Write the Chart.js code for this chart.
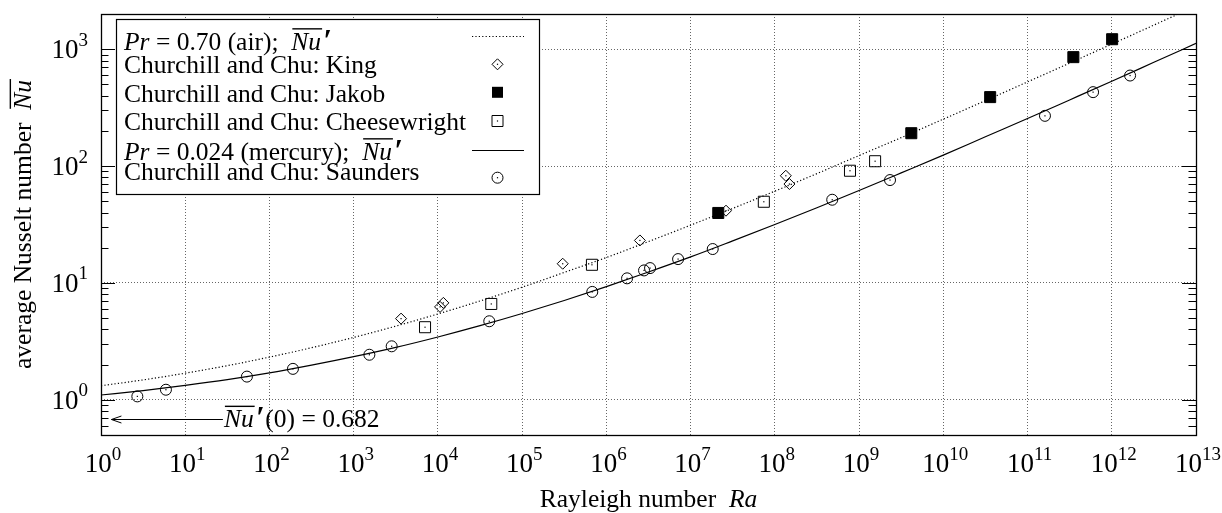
<!DOCTYPE html>
<html><head><meta charset="utf-8">
<script src="https://cdn.jsdelivr.net/npm/chart.js@4.4.1/dist/chart.umd.min.js"></script>
<style>html,body{margin:0;padding:0;background:#fff;}#wrap{width:1222px;height:513px;}</style>
</head><body><div id="wrap"><canvas id="c" width="1222" height="513"></canvas></div>
<script>
// ---------------- data ----------------
const xTickValues = [1e0,1e1,1e2,1e3,1e4,1e5,1e6,1e7,1e8,1e9,1e10,1e11,1e12,1e13];
const xTickLabels = ['10^0','10^1','10^2','10^3','10^4','10^5','10^6','10^7','10^8','10^9','10^10','10^11','10^12','10^13'];
const yTickValues = [1e0,1e1,1e2,1e3];
const yTickLabels = ['10^0','10^1','10^2','10^3'];
const xAxisTitle = 'Rayleigh number  *Ra*';
const yAxisTitle = 'average Nusselt number  ~Nu~';

const curveRa = [1e0,3.16e0,1e1,3.16e1,1e2,3.16e2,1e3,3.16e3,1e4,3.16e4,1e5,3.16e5,1e6,3.16e6,1e7,3.16e7,1e8,3.16e8,1e9,3.16e9,1e10,3.16e10,1e11,3.16e11,1e12,3.16e12,1e13];
const airNu = [1.32,1.48,1.69,1.96,2.32,2.79,3.42,4.27,5.43,7.01,9.20,12.3,16.5,22.6,31.2,43.4,61.0,86.2,123,175,252,363,525,760,1105,1607,2342];
const mercuryNu = [1.10,1.20,1.33,1.49,1.70,1.98,2.34,2.81,3.45,4.31,5.48,7.08,9.30,12.4,16.7,22.9,31.6,44.0,61.8,87.4,124,178,255,368,532,772,1121];

const kingRa = [3650,1.06e4,1.16e4,3.03e5,2.5e6,2.63e7,1.35e8,1.49e8];
const kingNu = [4.95,6.24,6.75,14.6,23.1,41.5,82.6,70.2];
const jakobRa = [2.13e7,4.17e9,3.6e10,3.5e11,1.01e12];
const jakobNu = [39.7,191,389,855,1217];
const cheeseRa = [7030,4.3e4,6.74e5,7.4e7,7.8e8,1.55e9];
const cheeseNu = [4.18,6.61,14.3,49.5,91.2,110];
const saundersRa = [2.7,5.9,54,190,1535,2825,4.07e4,6.8e5,1.76e6,2.8e6,3.3e6,7.1e6,1.83e7,4.8e8,2.33e9,1.61e11,6.0e11,1.65e12];
const saundersNu = [1.07,1.22,1.58,1.84,2.43,2.87,4.70,8.38,10.95,12.8,13.4,16.0,19.5,51.5,75.9,269,429,595];

const legendLabels = ['*Pr* = 0.70 (air);  ~Nu~′','Churchill and Chu: King','Churchill and Chu: Jakob','Churchill and Chu: Cheesewright','*Pr* = 0.024 (mercury);  ~Nu~′','Churchill and Chu: Saunders'];
const annotRaFrom = 28, annotRaTo = 1.33, annotNu = 0.682;
const annotLabel = '~Nu~′(0) = 0.682';

// ---------------- helpers ----------------
const FONT = "'Liberation Serif','Times New Roman',serif";
const plain = s => s.replace(/[*~]/g,'');
const pts = (xs,ys) => xs.map((x,i)=>({x, y: ys[i]}));

function parseRich(s){
  return s.split(/(\*[^*]+\*|~[^~]+~|′)/).filter(t=>t.length).map(t=>{
    if (t[0]==='*') return {t:t.slice(1,-1), it:true};
    if (t[0]==='~') return {t:t.slice(1,-1), it:true, ov:true};
    if (t==='′') return {t:'′', pr:true};
    return {t};
  });
}
function segFont(sg,size){
  if (sg.pr) return `italic bold ${Math.round(size*1.2)}px ${FONT}`;
  return `${sg.it?'italic ':''}${size}px ${FONT}`;
}
function drawRich(ctx, s, x, y, size, align){
  const segs = parseRich(s);
  let w = 0;
  for (const sg of segs){ ctx.font = segFont(sg,size); w += ctx.measureText(sg.t).width + (sg.pr ? 3 : 0); }
  let cx = align==='center' ? x-w/2 : align==='right' ? x-w : x;
  ctx.textBaseline='alphabetic'; ctx.textAlign='left'; ctx.fillStyle='#000';
  for (const sg of segs){
    ctx.font = segFont(sg,size);
    const sw = ctx.measureText(sg.t).width;
    if (sg.pr){ ctx.fillText(sg.t, cx+2, y+1); cx += sw+3; continue; }
    ctx.fillText(sg.t, cx, y);
    if (sg.ov){
      ctx.save(); ctx.strokeStyle='#000'; ctx.lineWidth=1.4; ctx.beginPath();
      ctx.moveTo(cx+1, y-size*0.81); ctx.lineTo(cx+sw+1, y-size*0.81); ctx.stroke(); ctx.restore();
    }
    cx += sw;
  }
}
function drawPow(ctx, label, x, y, align){
  const [b,e] = label.split('^');
  const bs = 27, es = 19;
  ctx.font = `${bs}px ${FONT}`; const bw = ctx.measureText(b).width;
  ctx.font = `${es}px ${FONT}`; const ew = ctx.measureText(e).width;
  const w = bw+ew;
  let sx = align==='center' ? x-w/2 : x-w;
  ctx.fillStyle='#000'; ctx.textAlign='left'; ctx.textBaseline='alphabetic';
  ctx.font = `${bs}px ${FONT}`; ctx.fillText(b, sx, y);
  ctx.font = `${es}px ${FONT}`; ctx.fillText(e, sx+bw, y-12.5);
}
function sym(ctx, kind, x, y){
  ctx.save(); ctx.strokeStyle='#000'; ctx.fillStyle='#000'; ctx.lineWidth=1;
  ctx.beginPath();
  if (kind==='diamond'){ ctx.moveTo(x-5.5,y); ctx.lineTo(x,y-5.5); ctx.lineTo(x+5.5,y); ctx.lineTo(x,y+5.5); ctx.closePath(); ctx.stroke(); }
  else if (kind==='fsquare'){ ctx.rect(x-5.5,y-5.5,11,11); ctx.fill(); }
  else if (kind==='square'){ ctx.rect(x-5.5,y-5.5,11,11); ctx.stroke(); }
  else if (kind==='circle'){ ctx.arc(x,y,5.5,0,Math.PI*2); ctx.stroke(); }
  if (kind!=='fsquare'){ ctx.fillRect(x-0.6,y-0.6,1.2,1.2); }
  ctx.restore();
}

// ---------------- plugin ----------------
const decor = {
  id:'decor',
  afterDatasetsDraw(chart){
    const ctx = chart.ctx, a = chart.chartArea, xs = chart.scales.x, ys = chart.scales.y;
    ctx.save();
    chart.data.datasets.forEach((ds,i)=>{
      if (!ds.centerDot) return;
      chart.getDatasetMeta(i).data.forEach(el=>{
        ctx.fillStyle='#000'; ctx.fillRect(el.x-0.6, el.y-0.6, 1.2, 1.2);
      });
    });
    ctx.strokeStyle='#000'; ctx.lineWidth=1;
    for (let d=-1; d<=3; d++){
      for (let m=1; m<=9; m++){
        const v = m*Math.pow(10,d);
        if (v < ys.min || v > ys.max) continue;
        const py = Math.round(ys.getPixelForValue(v))+0.5;
        const len = m===1 ? 14 : 7.5;
        ctx.beginPath();
        ctx.moveTo(a.left, py); ctx.lineTo(a.left+len, py);
        ctx.moveTo(a.right, py); ctx.lineTo(a.right-len, py);
        ctx.stroke();
      }
    }
    ctx.lineWidth=1.3;
    ctx.strokeRect(Math.round(a.left)+0.5, Math.round(a.top)+0.5, Math.round(a.right-a.left), Math.round(a.bottom-a.top));
    const ax0 = xs.getPixelForValue(annotRaFrom), ax1 = xs.getPixelForValue(annotRaTo), ay = Math.round(ys.getPixelForValue(annotNu))+0.5;
    ctx.lineWidth=1; ctx.beginPath();
    ctx.moveTo(ax0, ay); ctx.lineTo(ax1, ay);
    ctx.moveTo(ax1+10, ay-3.5); ctx.lineTo(ax1, ay); ctx.lineTo(ax1+10, ay+3.5);
    ctx.stroke();
    drawRich(ctx, annotLabel, ax0+1, ay+7.5, 25.5, 'left');
    const L = {x:116, y:19, w:423, h:175};
    ctx.fillStyle='#fff'; ctx.fillRect(L.x, L.y, L.w, L.h);
    ctx.strokeStyle='#000'; ctx.lineWidth=1.2; ctx.strokeRect(L.x+0.5, L.y+0.5, L.w, L.h);
    const textBase = [49.5, 73, 101.5, 130, 159.5, 180];
    const symY = [35.7, 64.3, 92.3, 121, 149.7, 177.7];
    const kinds = ['dotted','diamond','fsquare','square','solid','circle'];
    legendLabels.forEach((lab,i)=>{
      drawRich(ctx, lab, 124, textBase[i], 25.5, 'left');
      const k = kinds[i], y = symY[i];
      if (k==='dotted' || k==='solid'){
        ctx.save(); ctx.strokeStyle='#000'; ctx.lineWidth= k==='dotted' ? 1.2 : 1.1;
        if (k==='dotted') ctx.setLineDash([1.2,2.2]);
        ctx.beginPath(); ctx.moveTo(472, Math.round(y)+0.5); ctx.lineTo(524, Math.round(y)+0.5); ctx.stroke(); ctx.restore();
      } else sym(ctx, k, 497.5, y);
    });
    ctx.restore();
  },
  afterDraw(chart){
    const ctx = chart.ctx, a = chart.chartArea, xs = chart.scales.x, ys = chart.scales.y;
    ctx.save();
    xTickValues.forEach((v,i)=> drawPow(ctx, xTickLabels[i], xs.getPixelForValue(v)+2, 472, 'center'));
    yTickValues.forEach((v,i)=> drawPow(ctx, yTickLabels[i], 88, ys.getPixelForValue(v)+9, 'right'));
    drawRich(ctx, xAxisTitle, (a.left+a.right)/2, 507, 25.5, 'center');
    ctx.translate(31, (a.top+a.bottom)/2); ctx.rotate(-Math.PI/2);
    drawRich(ctx, yAxisTitle, 0, 0, 25.5, 'center');
    ctx.restore();
  }
};

// ---------------- chart ----------------
const scatterBase = {type:'scatter', showLine:false, borderColor:'#000', borderWidth:1, pointHoverRadius:0};
new Chart(document.getElementById('c'), {
  type:'scatter',
  data:{ datasets:[
    {type:'line', label: plain(legendLabels[0]), data: pts(curveRa, airNu), borderColor:'#000', borderWidth:1.2, borderDash:[1.2,2.2], pointRadius:0, fill:false, cubicInterpolationMode:'monotone', order:5},
    {...scatterBase, label: plain(legendLabels[1]), data: pts(kingRa, kingNu), pointStyle:'rectRot', pointRadius:5.5, backgroundColor:'rgba(255,255,255,0)', centerDot:true},
    {...scatterBase, label: plain(legendLabels[2]), data: pts(jakobRa, jakobNu), pointStyle:'rect', pointRadius:7.8, backgroundColor:'#000'},
    {...scatterBase, label: plain(legendLabels[3]), data: pts(cheeseRa, cheeseNu), pointStyle:'rect', pointRadius:7.8, backgroundColor:'rgba(255,255,255,0)', centerDot:true},
    {type:'line', label: plain(legendLabels[4]), data: pts(curveRa, mercuryNu), borderColor:'#000', borderWidth:1.2, pointRadius:0, fill:false, cubicInterpolationMode:'monotone', order:5},
    {...scatterBase, label: plain(legendLabels[5]), data: pts(saundersRa, saundersNu), pointStyle:'circle', pointRadius:5.5, backgroundColor:'rgba(255,255,255,0)', centerDot:true}
  ]},
  options:{
    responsive:false, animation:false, devicePixelRatio:1,
    layout:{ padding:{left:101, right:26, top:14, bottom:78}, autoPadding:false },
    plugins:{ legend:{display:false}, tooltip:{enabled:false} },
    events:[],
    scales:{
      x:{ type:'logarithmic', min:1, max:1e13,
          afterBuildTicks: s => { s.ticks = xTickValues.map(v=>({value:v})); },
          afterFit: s => { s.height = 0; },
          ticks:{display:false}, title:{display:false},
          grid:{display:true, color:'#666', lineWidth:1, drawTicks:false},
          border:{display:false, dash:[1,2]} },
      y:{ type:'logarithmic', min:0.5, max:2000,
          afterBuildTicks: s => { s.ticks = yTickValues.map(v=>({value:v})); },
          afterFit: s => { s.width = 0; },
          ticks:{display:false}, title:{display:false},
          grid:{display:true, color:'#666', lineWidth:1, drawTicks:false},
          border:{display:false, dash:[1,2]} }
    }
  },
  plugins:[decor]
});
</script></body></html>
